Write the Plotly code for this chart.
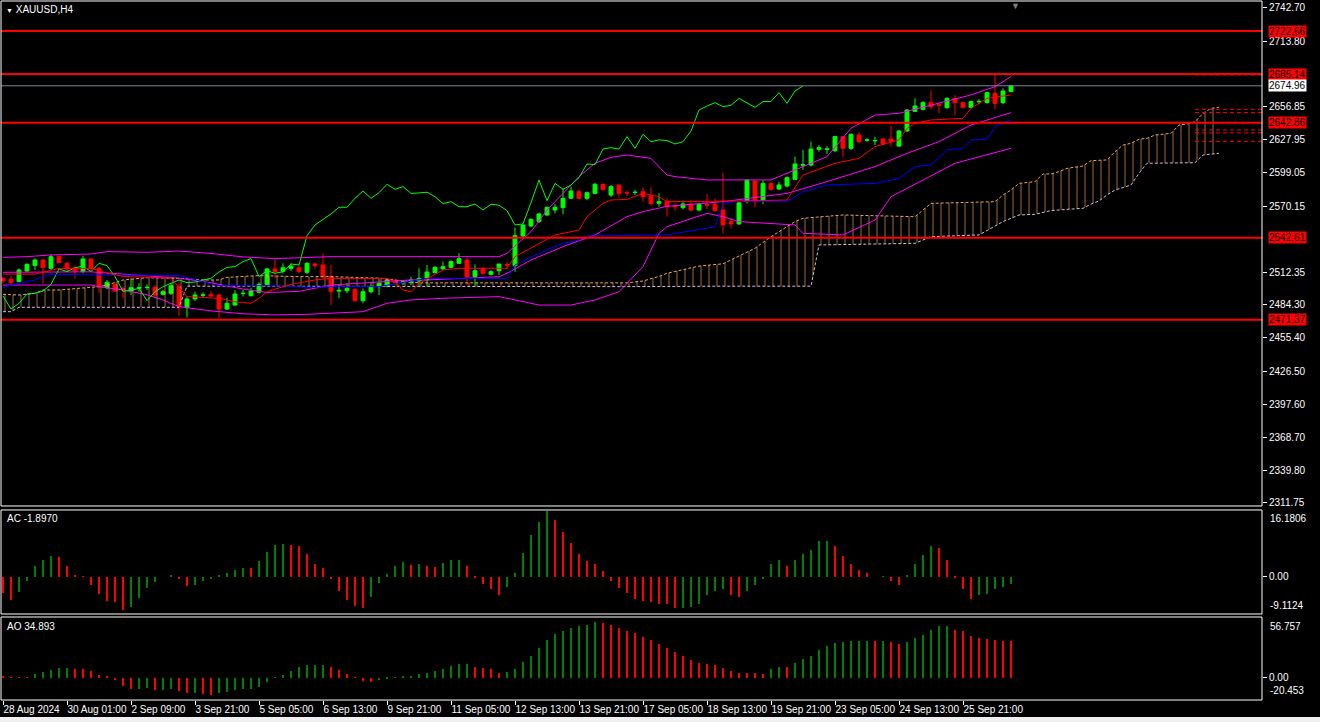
import plotly.graph_objects as go

# ---- candles (XAUUSD, H4) ----
opens = [2507.3, 2506.5, 2504.5, 2513.7, 2518.4, 2523.3, 2516.1, 2526.2, 2520.4, 2516.6,
         2513.2, 2524.2, 2516.1, 2499.2, 2502.1, 2498.6, 2496.3, 2498.9, 2499.3, 2499.5,
         2493.4, 2494.3, 2500.1, 2481.8, 2489.4, 2492.6, 2493.4, 2492.8, 2480.6, 2484.1,
         2494.0, 2492.3, 2495.2, 2502.1, 2515.5, 2513.5, 2516.0, 2516.6, 2512.6, 2519.8,
         2519.0, 2509.0, 2496.2, 2496.6, 2497.8, 2487.9, 2495.7, 2500.1, 2500.7, 2505.0,
         2503.4, 2503.6, 2505.0, 2505.9, 2512.3, 2515.5, 2516.9, 2520.4, 2523.3, 2508.8,
         2515.8, 2510.8, 2514.0, 2519.3, 2518.4, 2544.2, 2552.9, 2556.7, 2562.5, 2566.8,
         2568.9, 2577.0, 2582.8, 2577.0, 2581.3, 2589.2, 2579.9, 2588.6, 2582.0, 2582.0,
         2582.8, 2579.0, 2572.6, 2574.1, 2570.3, 2568.9, 2571.8, 2566.8, 2571.6, 2571.8,
         2566.8, 2556.7, 2554.7, 2574.1, 2592.1, 2575.0, 2590.0, 2585.1, 2587.7, 2593.5,
         2605.7, 2606.0, 2619.7, 2619.5, 2618.5, 2630.7, 2620.5, 2632.1, 2627.6, 2627.0,
         2628.6, 2628.6, 2622.5, 2635.6, 2652.7, 2654.5, 2660.3, 2658.4, 2655.9, 2664.0,
         2660.3, 2656.2, 2661.0, 2660.3, 2668.4, 2660.3, 2669.9]
highs = [2509.0, 2509.4, 2516.1, 2520.4, 2524.8, 2524.2, 2528.2, 2527.1, 2521.9, 2518.4,
         2527.1, 2524.8, 2517.5, 2505.9, 2503.9, 2500.1, 2507.3, 2503.0, 2502.1, 2501.5,
         2497.2, 2503.0, 2503.0, 2491.4, 2495.7, 2495.2, 2496.3, 2494.3, 2490.5, 2497.2,
         2497.2, 2499.2, 2503.9, 2516.6, 2523.3, 2520.4, 2520.4, 2518.9, 2521.5, 2521.3,
         2529.1, 2519.0, 2501.5, 2503.0, 2498.6, 2498.6, 2504.4, 2507.3, 2507.0, 2507.3,
         2505.9, 2508.8, 2516.1, 2519.0, 2518.0, 2521.9, 2523.0, 2529.1, 2524.8, 2519.5,
         2517.5, 2514.5, 2519.8, 2521.9, 2551.5, 2553.8, 2559.6, 2564.5, 2569.7, 2572.0,
         2585.7, 2587.2, 2584.5, 2583.0, 2590.5, 2590.0, 2588.6, 2588.6, 2583.7, 2584.2,
         2586.6, 2586.6, 2581.3, 2577.0, 2572.6, 2575.0, 2575.5, 2573.0, 2580.8, 2577.0,
         2599.3, 2559.6, 2574.0, 2593.5, 2592.1, 2592.9, 2591.0, 2591.5, 2596.0, 2613.3,
         2619.1, 2626.3, 2623.4, 2622.5, 2631.5, 2630.7, 2633.6, 2635.0, 2629.2, 2630.7,
         2630.0, 2640.0, 2636.5, 2654.5, 2664.0, 2661.5, 2670.7, 2660.3, 2665.0, 2667.0,
         2661.0, 2662.0, 2663.2, 2670.0, 2684.4, 2672.8, 2675.5]
lows = [2503.0, 2502.1, 2504.0, 2513.2, 2514.6, 2503.0, 2514.6, 2520.4, 2513.2, 2507.3,
        2511.7, 2513.7, 2494.3, 2497.8, 2495.7, 2489.9, 2492.8, 2495.7, 2497.2, 2491.4,
        2492.3, 2492.8, 2474.8, 2473.1, 2487.6, 2490.5, 2491.4, 2473.1, 2479.8, 2483.6,
        2491.4, 2491.4, 2494.3, 2501.5, 2507.3, 2511.7, 2513.7, 2511.7, 2511.0, 2515.5,
        2506.9, 2484.1, 2489.9, 2494.3, 2487.0, 2485.6, 2494.3, 2492.8, 2499.5, 2501.5,
        2501.5, 2501.5, 2500.7, 2500.1, 2511.5, 2514.6, 2516.0, 2519.8, 2501.5, 2500.1,
        2510.2, 2509.8, 2510.2, 2515.5, 2513.1, 2543.0, 2551.7, 2555.5, 2561.5, 2563.9,
        2563.1, 2577.0, 2576.0, 2575.5, 2580.5, 2583.5, 2578.0, 2578.4, 2579.0, 2579.9,
        2574.1, 2570.6, 2569.7, 2561.0, 2566.3, 2567.4, 2565.4, 2565.5, 2567.4, 2565.4,
        2546.5, 2550.9, 2553.8, 2572.6, 2569.2, 2571.8, 2583.5, 2584.2, 2586.5, 2592.9,
        2601.7, 2604.6, 2617.6, 2615.6, 2617.0, 2612.7, 2619.1, 2624.9, 2626.3, 2623.4,
        2623.4, 2622.0, 2621.5, 2635.0, 2652.4, 2653.5, 2654.5, 2651.0, 2655.0, 2649.5,
        2655.0, 2655.5, 2658.8, 2659.5, 2654.5, 2658.8, 2669.5]
closes = [2505.0, 2503.6, 2514.6, 2519.5, 2523.3, 2516.6, 2526.2, 2521.0, 2515.5, 2513.7,
          2524.2, 2516.1, 2500.1, 2503.9, 2496.3, 2497.2, 2499.2, 2499.2, 2499.5, 2492.8,
          2495.7, 2500.9, 2482.7, 2489.4, 2492.8, 2492.9, 2492.0, 2480.6, 2485.6, 2493.7,
          2494.3, 2496.3, 2502.1, 2515.5, 2513.2, 2516.5, 2518.0, 2513.2, 2520.4, 2518.4,
          2508.8, 2496.0, 2496.9, 2498.6, 2487.9, 2495.7, 2500.1, 2503.0, 2505.9, 2503.6,
          2504.1, 2505.9, 2507.3, 2512.9, 2516.9, 2517.5, 2521.9, 2524.5, 2508.8, 2514.0,
          2511.7, 2513.1, 2519.8, 2519.0, 2544.5, 2553.8, 2558.7, 2563.4, 2569.2, 2569.2,
          2577.0, 2583.4, 2577.0, 2581.9, 2589.2, 2584.8, 2587.2, 2581.3, 2581.7, 2582.3,
          2578.4, 2572.4, 2574.1, 2569.7, 2569.7, 2572.1, 2566.8, 2571.8, 2571.0, 2566.3,
          2553.8, 2554.7, 2573.2, 2592.9, 2575.0, 2590.0, 2584.8, 2588.6, 2595.0, 2606.9,
          2606.3, 2619.9, 2621.1, 2619.9, 2630.7, 2620.5, 2632.7, 2626.3, 2627.9, 2627.3,
          2624.3, 2626.3, 2635.6, 2653.9, 2657.4, 2660.3, 2656.8, 2658.0, 2664.0, 2660.3,
          2656.2, 2661.2, 2661.4, 2669.0, 2659.7, 2670.4, 2674.96]

date_labels = ['28 Aug 2024', '30 Aug 01:00', '2 Sep 09:00', '3 Sep 21:00', '5 Sep 05:00',
               '6 Sep 13:00', '9 Sep 21:00', '11 Sep 05:00', '12 Sep 13:00', '13 Sep 21:00',
               '17 Sep 05:00', '18 Sep 13:00', '19 Sep 21:00', '23 Sep 05:00', '24 Sep 13:00',
               '25 Sep 21:00']
price_ticks = ['2742.70', '2713.80', '2656.85', '2627.95', '2599.05', '2570.15', '2512.35',
               '2484.30', '2455.40', '2426.50', '2397.60', '2368.70', '2339.80', '2311.75']

# ---- indicators (vertices) ----
bb_up_x = [0, 3, 6, 11, 13, 18, 22, 26, 30, 34, 38, 41, 62, 63, 66, 68, 70, 72, 74, 76,
           78, 81, 83, 84, 88, 96, 97, 103, 106, 109, 112, 117, 121, 124, 126]
bb_up_y = [2525.6, 2526.2, 2527.7, 2528.5, 2530.6, 2530.0, 2531.1, 2529.0, 2526.0, 2524.5,
           2525.5, 2526.2, 2526.2, 2529.1, 2548.0, 2566.8, 2581.3, 2595.9, 2607.5, 2612.7,
           2614.7, 2611.8, 2597.3, 2595.9, 2593.0, 2593.0, 2595.9, 2613.3, 2638.0, 2649.5,
           2651.0, 2659.7, 2667.0, 2674.2, 2683.0]
bb_mid_x = [0, 11, 15, 18, 22, 26, 30, 33, 37, 41, 51, 53, 62, 63, 66, 70, 74, 78, 80, 83,
            90, 98, 103, 109, 113, 117, 121, 126]
bb_mid_y = [2512.6, 2513.0, 2511.0, 2509.5, 2507.5, 2503.5, 2498.0, 2495.0, 2496.0, 2501.5,
            2505.9, 2505.9, 2508.8, 2511.7, 2523.3, 2534.9, 2545.1, 2561.0, 2565.4, 2570.0,
            2574.1, 2581.3, 2591.5, 2604.6, 2616.2, 2626.3, 2640.8, 2651.6]
bb_lo_x = [0, 11, 12, 15, 18, 20, 22, 26, 30, 34, 38, 41, 45, 48, 51, 55, 62, 63, 67, 71,
           74, 77, 80, 82, 83, 88, 90, 92, 99, 100, 105, 109, 111, 115, 119, 126]
bb_lo_y = [2501.5, 2501.5, 2500.0, 2497.2, 2493.0, 2488.5, 2482.7, 2479.0, 2476.5, 2475.5,
           2476.0, 2476.9, 2478.3, 2485.6, 2488.5, 2490.0, 2491.4, 2490.0, 2484.1, 2484.1,
           2488.5, 2495.7, 2517.5, 2546.5, 2552.3, 2563.9, 2561.0, 2556.7, 2553.8, 2546.5,
           2545.1, 2558.1, 2578.4, 2592.9, 2607.5, 2620.5]

tenkan_x = [0, 4, 7, 11, 13, 15, 21, 23, 27, 29, 31, 32, 33, 35, 36, 39, 41, 48, 49, 50,
            51, 52, 55, 57, 63, 64, 67, 69, 72, 73, 75, 76, 78, 80, 82, 83, 90, 98, 100, 104,
            107, 109, 112, 113, 114, 116, 120, 121, 123, 126]
tenkan_y = [2511.0, 2511.0, 2516.0, 2516.0, 2512.0, 2509.0, 2507.5, 2491.4, 2489.9, 2487.0,
            2485.6, 2489.9, 2495.7, 2500.1, 2502.1, 2505.9, 2507.3, 2507.3, 2504.4, 2497.2,
            2495.7, 2503.0, 2514.6, 2516.1, 2516.1, 2526.2, 2537.8, 2545.1, 2549.4, 2561.0,
            2572.6, 2575.5, 2576.1, 2581.3, 2578.4, 2574.1, 2574.5, 2575.5, 2597.3, 2607.5,
            2611.8, 2622.0, 2627.8, 2637.9, 2642.3, 2645.2, 2646.6, 2655.3, 2664.0, 2667.0]
kijun_x = [0, 1, 2, 4, 5, 6, 22, 27, 33, 39, 41, 47, 53, 63, 64, 67, 70, 72, 73, 83,
           89, 90, 92, 98, 100, 103, 109, 112, 114, 116, 118, 120, 121, 123, 124, 126]
kijun_y = [2499.2, 2501.5, 2503.0, 2505.9, 2508.8, 2510.8, 2509.7, 2500.9, 2500.9, 2499.5,
           2500.1, 2500.1, 2507.3, 2507.3, 2519.0, 2529.1, 2537.8, 2540.7, 2544.2, 2545.1,
           2552.3, 2572.6, 2574.1, 2574.1, 2582.8, 2588.6, 2590.0, 2594.4, 2604.6, 2606.0,
           2619.1, 2620.5, 2627.8, 2628.4, 2639.4, 2645.2]
chikou_shift = 26

span_a_x = [0, 2, 4, 5, 7, 9, 12, 13, 14, 15, 18, 22, 25, 27, 28, 32, 37, 41, 47, 52,
            78, 80, 82, 83, 87, 90, 94, 96, 99, 100, 105, 114, 116, 124, 125, 126, 127, 129, 130, 131,
            132, 133, 135, 136, 138, 139, 140, 141, 142, 143, 144, 146, 147, 148, 149, 150, 151, 152]
span_a_y = [2493.4, 2492.8, 2494.3, 2497.2, 2497.2, 2498.1, 2500.1, 2501.5, 2503.9, 2505.9,
            2507.9, 2507.3, 2505.9, 2505.9, 2508.2, 2509.7, 2508.8, 2508.8, 2507.5, 2503.4,
            2503.4, 2505.0, 2509.0, 2511.7, 2518.0, 2520.0, 2533.5, 2543.6, 2556.7, 2559.6,
            2562.5, 2561.0, 2572.6, 2574.1, 2579.9, 2584.2, 2590.0, 2591.5, 2598.2, 2598.2,
            2600.2, 2603.1, 2605.1, 2609.8, 2610.4, 2617.6, 2623.4, 2624.9, 2628.4, 2629.2,
            2632.1, 2633.6, 2640.8, 2641.7, 2643.7, 2651.0, 2655.3, 2656.2]
span_b_x = [0, 1, 2, 22, 23, 52, 78, 90, 101, 102, 114, 116, 122, 125, 126, 127, 129, 131, 133, 135,
            136, 137, 138, 139, 141, 142, 143, 149, 150, 152]
span_b_y = [2478.3, 2478.3, 2482.1, 2482.1, 2500.5, 2500.1, 2500.1, 2500.5, 2500.5, 2536.4,
            2537.8, 2543.6, 2545.1, 2556.7, 2559.6, 2562.5, 2563.1, 2566.3, 2567.4, 2568.3,
            2572.0, 2574.7, 2579.9, 2584.2, 2588.6, 2598.8, 2607.5, 2608.0, 2614.7, 2616.2]

ac_values = [-4.05, -5.7, -3.8, -1.0, 2.6, 4.0, 5.0, 4.8, 2.7, 0.2,
             0.05, -2.0, -4.3, -6.0, -6.4, -8.2, -7.6, -5.3, -2.8, -1.4,
             0.0, 0.3, -0.7, -2.4, -2.0, -1.2, -0.5, 0.2, 0.8, 1.7,
             2.2, 2.0, 3.8, 6.0, 7.9, 7.95, 7.8, 7.5, 5.7, 3.0,
             2.0, -0.7, -3.6, -5.7, -7.4, -7.8, -5.1, -1.7, 0.7, 2.7,
             3.6, 2.9, 3.1, 2.5, 2.4, 3.4, 4.0, 4.1, 2.6, -0.2,
             -1.8, -3.2, -4.5, -2.6, 0.9, 5.9, 10.4, 13.5, 16.18, 14.0,
             11.0, 8.2, 5.5, 3.8, 3.0, 1.3, -1.0, -2.8, -4.1, -5.5,
             -6.1, -6.3, -6.7, -6.9, -7.9, -7.85, -7.6, -6.8, -4.6, -3.5,
             -3.0, -4.6, -5.1, -3.5, -2.0, -0.7, 3.0, 4.2, 2.7, 4.0,
             5.5, 6.7, 8.8, 8.85, 7.5, 5.2, 3.1, 1.7, 0.9, 0.0,
             0.1, -1.0, -2.0, 0.3, 3.1, 5.3, 7.5, 7.1, 4.2, -0.2,
             -3.0, -5.5, -4.6, -4.3, -3.0, -2.6, -1.897]
ao_values = [1.0, 0.3, 0.2, 0.1, 3.2, 5.1, 7.6, 8.9, 9.2, 8.6,
             8.3, 6.7, 2.5, 0.6, -2.2, -8.0, -10.8, -10.6, -10.4, -11.8,
             -11.4, -11.2, -12.4, -14.9, -14.7, -15.6, -16.5, -14.9, -13.4, -12.1,
             -11.1, -11.0, -8.6, -3.8, -0.3, 2.5, 6.7, 10.5, 12.1, 12.2,
             12.3, 9.9, 7.3, 3.5, 0.2, -3.5, -3.8, -2.2, -0.6, 0.2,
             1.6, 1.9, 3.5, 4.8, 6.7, 8.3, 11.1, 13.0, 13.1, 10.5,
             8.9, 8.0, 4.8, 5.7, 8.3, 14.6, 20.7, 28.0, 35.9, 41.7,
             44.5, 47.7, 49.6, 50.2, 52.6, 52.4, 50.2, 47.1, 44.5, 42.3,
             39.1, 35.9, 31.8, 28.0, 24.5, 20.7, 16.9, 14.0, 13.0, 11.8,
             9.5, 6.7, 4.8, 4.7, 4.6, 3.5, 8.3, 10.5, 10.4, 13.7,
             17.5, 21.0, 25.8, 30.2, 33.4, 34.3, 35.0, 35.1, 35.2, 35.0,
             35.1, 34.3, 32.1, 34.3, 37.5, 40.7, 45.5, 48.7, 48.8, 45.5,
             43.9, 39.8, 37.5, 36.6, 36.0, 35.2, 34.893]
ac_scale = ['16.1806', '-9.1124']
ao_scale = ['56.757', '-20.453']

level_lines = [2722.66, 2685.14, 2642.86, 2542.61, 2471.37]
bid_price = 2674.96
order_levels = [2684.4, 2654.5, 2651.6, 2636.5, 2634.0, 2626.6]

# ---- styling / geometry ----
FONT = 'Liberation Sans'
WHITE = '#ffffff'
X_RANGE = [-0.25, 157.375]
MAIN_DOM = [0.2786, 1.0]
AC_DOM = [0.1243, 0.2729]
AO_DOM = [0.0014, 0.12]


def up_down_colors(values, up='#008000', down='#ff0000'):
    cols = [down]
    for k in range(1, len(values)):
        cols.append(up if values[k] > values[k - 1] else down)
    return cols


def add_line(fig, x, y, color, dash=None):
    fig.add_trace(go.Scatter(x=x, y=y, mode='lines', hoverinfo='skip',
                             line=dict(color=color, width=1, dash=dash)))


bars = list(range(len(closes)))
fig = go.Figure()

# Ichimoku cloud
add_line(fig, span_b_x, span_b_y, '#d8bfd8', dash='3px,2px')
fig.add_trace(go.Scatter(
    x=span_a_x, y=span_a_y, mode='lines', hoverinfo='skip',
    line=dict(color='#f4a460', width=1, dash='3px,2px'),
    fill='tonexty', fillcolor='rgba(0,0,0,0)',
    fillpattern=dict(shape='|', fgcolor='#ffb070', bgcolor='rgba(0,0,0,0)',
                     size=8, solidity=0.15),
))

# Bollinger bands
add_line(fig, bb_up_x, bb_up_y, '#ff00ff')
add_line(fig, bb_mid_x, bb_mid_y, '#ff00ff')
add_line(fig, bb_lo_x, bb_lo_y, '#ff00ff')

# Ichimoku lines
add_line(fig, bars[:len(closes) - chikou_shift], closes[chikou_shift:], '#00ff00')
add_line(fig, kijun_x, kijun_y, '#0000ff')
add_line(fig, tenkan_x, tenkan_y, '#ff0000')

fig.add_trace(go.Candlestick(
    x=bars, open=opens, high=highs, low=lows, close=closes,
    increasing=dict(line=dict(color='#00ff00', width=1), fillcolor='#00ff00'),
    decreasing=dict(line=dict(color='#ff0000', width=1), fillcolor='#ff0000'),
    whiskerwidth=0, hoverinfo='skip',
))

fig.add_trace(go.Bar(x=bars, y=ac_values, yaxis='y2', width=0.15,
                     marker=dict(color=up_down_colors(ac_values), line=dict(width=0)),
                     hoverinfo='skip'))
fig.add_trace(go.Bar(x=bars, y=ao_values, yaxis='y3', width=0.22,
                     marker=dict(color=up_down_colors(ao_values), line=dict(width=0)),
                     hoverinfo='skip'))

# order arrows at the right edge
fig.add_trace(go.Scatter(x=[X_RANGE[1] + 0.3] * len(order_levels), y=order_levels,
                         mode='markers', cliponaxis=False, hoverinfo='skip',
                         marker=dict(symbol='triangle-right', size=6, color='#ff0000')))

shapes = []
for lv in level_lines:
    shapes.append(dict(type='line', xref='paper', yref='y', x0=0, x1=1, y0=lv, y1=lv,
                       line=dict(color='#ff0000', width=2), layer='above'))
shapes.append(dict(type='line', xref='paper', yref='y', x0=0, x1=1, y0=bid_price, y1=bid_price,
                   line=dict(color='#778899', width=1), layer='above'))
order_start = len(closes) + 22
for lv in order_levels:
    shapes.append(dict(type='line', xref='x', yref='y', x0=order_start, x1=X_RANGE[1],
                       y0=lv, y1=lv, line=dict(color='#ff0000', width=1, dash='4px,3px'),
                       layer='above'))
for dom in (MAIN_DOM, AC_DOM, AO_DOM):
    shapes.append(dict(type='rect', xref='paper', yref='paper', x0=0, x1=1,
                       y0=dom[0], y1=dom[1], line=dict(color=WHITE, width=1), layer='above'))
shapes.append(dict(type='rect', xref='paper', yref='paper', x0=-0.01, x1=1.1,
                   y0=-0.035, y1=-0.0229, fillcolor='#f0f0f0', line=dict(width=0)))

annotations = [
    dict(xref='paper', yref='paper', x=0, y=1, xanchor='left', yanchor='top', xshift=3, yshift=-1,
         text='<span style="font-size:7px">▼</span> XAUUSD,H4', showarrow=False,
         font=dict(color=WHITE, size=10, family=FONT)),
    dict(xref='paper', yref='y2 domain', x=0, y=1, xanchor='left', yanchor='top', xshift=4, yshift=-1,
         text='AC %.4f' % ac_values[-1], showarrow=False, font=dict(color=WHITE, size=10, family=FONT)),
    dict(xref='paper', yref='y3 domain', x=0, y=1, xanchor='left', yanchor='top', xshift=4, yshift=-2,
         text='AO %.3f' % ao_values[-1], showarrow=False, font=dict(color=WHITE, size=10, family=FONT)),
    dict(xref='x', yref='paper', x=len(closes) - 0.5, y=1, yanchor='top', yshift=2,
         text='▼', showarrow=False, font=dict(color='#808080', size=9)),
]
for dom_ref, labels, shifts in (('y2 domain', ac_scale, (-1, 1)), ('y3 domain', ao_scale, (-2, 2))):
    annotations.append(dict(xref='paper', yref=dom_ref, x=1, y=1, xanchor='left', yanchor='top',
                            xshift=6, yshift=shifts[0], text=labels[0], showarrow=False,
                            font=dict(color=WHITE, size=10, family=FONT)))
    annotations.append(dict(xref='paper', yref=dom_ref, x=1, y=0, xanchor='left', yanchor='bottom',
                            xshift=6, yshift=shifts[1], text=labels[1], showarrow=False,
                            font=dict(color=WHITE, size=10, family=FONT)))
for lv in level_lines:
    annotations.append(dict(xref='paper', yref='y', x=1, y=lv, xanchor='left', xshift=6,
                            text='%.2f' % lv, showarrow=False, bgcolor='#ff0000', borderpad=0,
                            font=dict(color='#000000', size=10, family=FONT)))
annotations.append(dict(xref='paper', yref='y', x=1, y=bid_price, xanchor='left', xshift=6,
                        text='%.2f' % bid_price, showarrow=False, bgcolor=WHITE, borderpad=0,
                        font=dict(color='#000000', size=10, family=FONT)))

axis_common = dict(showgrid=False, zeroline=False, showline=False, ticks='outside', ticklen=4,
                   tickcolor=WHITE, automargin=False,
                   tickfont=dict(color=WHITE, size=10, family=FONT))

fig.update_layout(
    width=1320, height=722,
    margin=dict(l=1, r=58, t=1, b=21, autoexpand=False),
    paper_bgcolor='#000000', plot_bgcolor='#000000',
    showlegend=False, hovermode=False, bargap=0,
    font=dict(family=FONT, color=WHITE),
    xaxis=dict(domain=[0, 1], range=X_RANGE, anchor='y3', tickangle=0,
               tickvals=[8 * k for k in range(len(date_labels))], ticktext=date_labels,
               ticklabelposition='outside right', rangeslider=dict(visible=False),
               **axis_common),
    yaxis=dict(domain=MAIN_DOM, range=[2309.14, 2748.79], side='right', anchor='x',
               tickvals=[float(t) for t in price_ticks], ticktext=price_ticks, **axis_common),
    yaxis2=dict(domain=AC_DOM, range=[-9.3, 16.5], side='right', anchor='x',
                tickvals=[0], ticktext=['0.00'], **axis_common),
    yaxis3=dict(domain=AO_DOM, range=[-21.4, 57.7], side='right', anchor='x',
                tickvals=[0], ticktext=['0.00'], **axis_common),
    shapes=shapes,
    annotations=annotations,
)

# the page body has a default 8px margin; drop it so the chart sits flush
fig.write_html("out.html", config={'displayModeBar': False},
               post_script="document.body.style.margin='0';")
